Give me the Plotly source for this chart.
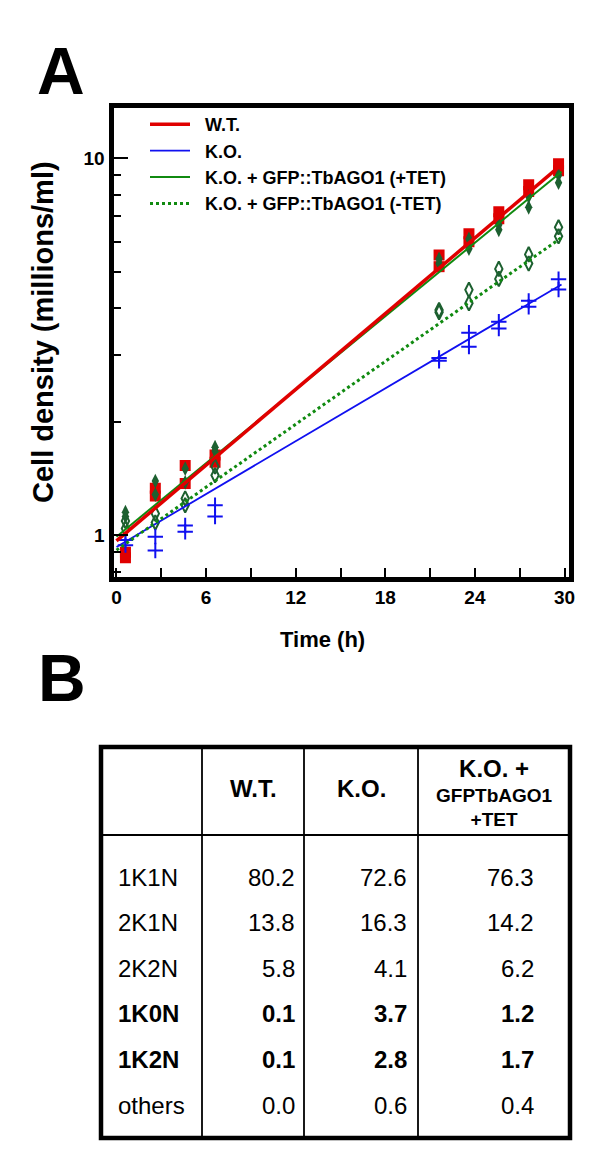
import plotly.graph_objects as go

# ---------------- Panel A data (cell density, millions/ml) ----------------
time_h = [0.6, 2.6, 4.6, 6.6, 21.6, 23.6, 25.6, 27.6, 29.6]
wt_rep1 = [0.87, 1.27, 1.37, 1.56, 5.15, 6.00, 6.90, 8.15, 9.25]
wt_rep2 = [0.90, 1.33, 1.53, 1.63, 5.53, 6.30, 7.20, 8.50, 9.65]
ko_rep1 = [0.94, 0.91, 1.02, 1.12, 2.90, 3.16, 3.53, 4.03, 4.48]
ko_rep2 = [0.97, 0.99, 1.06, 1.20, 2.95, 3.44, 3.68, 4.18, 4.77]
tet_plus_rep1 = [1.12, 1.28, 1.38, 1.67, 5.25, 5.75, 6.45, 7.40, 8.60]
tet_plus_rep2 = [1.15, 1.39, 1.50, 1.71, 5.40, 6.10, 6.65, 7.90, 9.00]
tet_minus_rep1 = [1.04, 1.08, 1.20, 1.44, 3.90, 4.12, 4.78, 5.25, 6.20]
tet_minus_rep2 = [1.09, 1.14, 1.25, 1.52, 3.95, 4.47, 5.08, 5.55, 6.55]

# exponential growth fits (values of the fitted lines at start / end time)
fit_t = [0.0, 29.8]
wt_fit = [0.965, 9.6]
ko_fit = [0.93, 4.62]
tet_plus_fit = [0.99, 9.2]
tet_minus_fit = [0.912, 6.15]

series_names = ["W.T.", "K.O.", "K.O. + GFP::TbAGO1 (+TET)", "K.O. + GFP::TbAGO1 (-TET)"]

x_ticks = [0, 3, 6, 9, 12, 15, 18, 21, 24, 27, 30]
y_ticks = [1, 10]
y_minor = [0.8, 0.9, 2, 3, 4, 5, 6, 7, 8, 9]

# ---------------- Panel B data (% of cells) ----------------
row_labels = ["1K1N", "2K1N", "2K2N", "1K0N", "1K2N", "others"]
bold_rows = ["1K0N", "1K2N"]
col_headers = ["W.T.", "K.O.", "K.O. +\nGFPTbAGO1<br>+TET"]
wt_pct = [80.2, 13.8, 5.8, 0.1, 0.1, 0.0]
ko_pct = [72.6, 16.3, 4.1, 3.7, 2.8, 0.6]
rescue_pct = [76.3, 14.2, 6.2, 1.2, 1.7, 0.4]

# ---------------- helpers ----------------
W, H = 600, 1162
FONT = "Liberation Sans, Arial, Helvetica, sans-serif"


def fx(p):
    return p / W


def fy(p):
    return 1 - p / H


fig = go.Figure()

RED = "#e00000"
BLUE = "#1010f0"
GREEN_LINE = "#108a10"
GREEN_MARK = "#1d6030"

# markers (two replicates per time point)
fig.add_trace(go.Scatter(x=time_h * 2, y=wt_rep1 + wt_rep2, mode="markers", showlegend=False,
                         marker=dict(symbol="square", size=11, color=RED, line=dict(width=0))))
fig.add_trace(go.Scatter(x=time_h * 2, y=tet_plus_rep1 + tet_plus_rep2, mode="markers", showlegend=False,
                         marker=dict(symbol="diamond-tall", size=10.5, color=GREEN_MARK, line=dict(width=0))))
fig.add_trace(go.Scatter(x=time_h * 2, y=tet_minus_rep1 + tet_minus_rep2, mode="markers", showlegend=False,
                         marker=dict(symbol="diamond-tall-open", size=10.5, color=GREEN_MARK,
                                     line=dict(width=2, color=GREEN_MARK))))
fig.add_trace(go.Scatter(x=time_h * 2, y=ko_rep1 + ko_rep2, mode="markers", showlegend=False,
                         marker=dict(symbol="cross-thin", size=11, color=BLUE,
                                     line=dict(width=2, color=BLUE))))

NB = "\u00a0\u00a0"
# fitted lines (legend entries)
fig.add_trace(go.Scatter(x=fit_t, y=ko_fit, mode="lines", name=NB + series_names[1], legendrank=2,
                         line=dict(color=BLUE, width=1.8)))
fig.add_trace(go.Scatter(x=fit_t, y=tet_minus_fit, mode="lines", name=NB + series_names[3], legendrank=4,
                         line=dict(color=GREEN_LINE, width=3, dash="dot")))
fig.add_trace(go.Scatter(x=fit_t, y=tet_plus_fit, mode="lines", name=NB + series_names[2], legendrank=3,
                         line=dict(color=GREEN_LINE, width=2)))
fig.add_trace(go.Scatter(x=fit_t, y=wt_fit, mode="lines", name=NB + series_names[0], legendrank=1,
                         line=dict(color=RED, width=3.5)))

axis_font = dict(family=FONT, size=19, color="black", weight="bold")

fig.update_layout(
    template="none",
    width=W, height=H,
    margin=dict(l=0, r=0, t=0, b=0),
    paper_bgcolor="white", plot_bgcolor="white",
    showlegend=True,
    legend=dict(x=fx(145), y=fy(106), xanchor="left", yanchor="top",
                bgcolor="rgba(0,0,0,0)", borderwidth=0,
                font=dict(family=FONT, size=18, color="black", weight="bold"),
                traceorder="normal", itemwidth=40, tracegroupgap=0),
    xaxis=dict(domain=[fx(113.5), fx(569)], range=[-0.2, 30.3], automargin=False,
               tickmode="array", tickvals=x_ticks,
               ticktext=[str(v) if v % 6 == 0 else "" for v in x_ticks],
               ticks="inside", ticklen=9, tickwidth=2, tickcolor="black",
               showline=True, linewidth=5, linecolor="black", mirror=True,
               showgrid=False, zeroline=False, tickfont=axis_font),
    yaxis=dict(domain=[fy(576.5), fy(107.5)], type="log", range=[-0.110, 1.134], automargin=False,
               tickmode="array", tickvals=y_ticks, ticktext=[str(v) for v in y_ticks],
               ticks="inside", ticklen=14, tickwidth=2, tickcolor="black",
               minor=dict(tickmode="array", tickvals=y_minor, ticks="inside", ticklen=7,
                          tickwidth=2, tickcolor="black", showgrid=False),
               showline=True, linewidth=5, linecolor="black", mirror=True,
               showgrid=False, zeroline=False, tickfont=axis_font),
)

ann = []
# panel letters
ann.append(dict(text="A", x=fx(61), y=fy(71), xref="paper", yref="paper", showarrow=False,
                xanchor="center", yanchor="middle",
                font=dict(family=FONT, size=66, color="black", weight="bold")))
ann.append(dict(text="B", x=fx(62), y=fy(678), xref="paper", yref="paper", showarrow=False,
                xanchor="center", yanchor="middle",
                font=dict(family=FONT, size=66, color="black", weight="bold")))
# axis titles
ann.append(dict(text="Cell density (millions/ml)", x=fx(43), y=fy(332), xref="paper", yref="paper",
                showarrow=False, textangle=-90, xanchor="center", yanchor="middle",
                font=dict(family=FONT, size=29, color="black", weight="bold")))
ann.append(dict(text="Time (h)", x=fx(322), y=fy(640), xref="paper", yref="paper",
                showarrow=False, xanchor="center", yanchor="middle",
                font=dict(family=FONT, size=22, color="black", weight="bold")))

# ---------------- Panel B table ----------------
T_L, T_R, T_T, T_B = 101, 570, 747, 1138
col_x = [T_L, 202, 304, 418, T_R]
head_bottom = 835
row_y0, row_dy = 877, 45.6
value_right = [297, 409, 536]

shapes = []
for x0 in col_x[1:-1]:
    shapes.append(dict(type="line", xref="paper", yref="paper", x0=fx(x0), x1=fx(x0),
                       y0=fy(T_T), y1=fy(T_B), line=dict(color="black", width=1.8)))
shapes.append(dict(type="line", xref="paper", yref="paper", x0=fx(T_L), x1=fx(T_R),
                   y0=fy(head_bottom), y1=fy(head_bottom), line=dict(color="black", width=2.2)))
shapes.append(dict(type="rect", xref="paper", yref="paper", x0=fx(T_L), x1=fx(T_R),
                   y0=fy(T_B), y1=fy(T_T), line=dict(color="black", width=4.5)))

# headers
header_centers = [(col_x[i + 1] + col_x[i + 2]) / 2 for i in range(3)]
for i, h in enumerate(col_headers):
    parts = h.split("\n")
    if len(parts) == 1:
        ann.append(dict(text=parts[0], x=fx(header_centers[i]), y=fy(788), xref="paper", yref="paper",
                        showarrow=False, xanchor="center", yanchor="middle",
                        font=dict(family=FONT, size=24, color="black", weight="bold")))
    else:
        txt = "<span style='font-size:24px'>" + parts[0] + "</span><br>" + parts[1]
        ann.append(dict(text=txt, x=fx(header_centers[i]), y=fy(792), xref="paper", yref="paper",
                        showarrow=False, xanchor="center", yanchor="middle",
                        font=dict(family=FONT, size=19, color="black", weight="bold")))

# body
cols = [wt_pct, ko_pct, rescue_pct]
for r, lab in enumerate(row_labels):
    y = row_y0 + r * row_dy
    wgt = "bold" if lab in bold_rows else "normal"
    ann.append(dict(text=lab, x=fx(116), y=fy(y), xref="paper", yref="paper", showarrow=False,
                    xanchor="left", yanchor="middle",
                    font=dict(family=FONT, size=24, color="black", weight=wgt)))
    for c, vals in enumerate(cols):
        ann.append(dict(text=f"{vals[r]:.1f}", x=fx(value_right[c]), y=fy(y), xref="paper", yref="paper",
                        showarrow=False, xanchor="right", yanchor="middle",
                        font=dict(family=FONT, size=24, color="black", weight=wgt)))

fig.update_layout(annotations=ann, shapes=shapes)
fig.write_html("out.html", config={"displayModeBar": False},
               post_script="document.body.style.margin='0px';")
